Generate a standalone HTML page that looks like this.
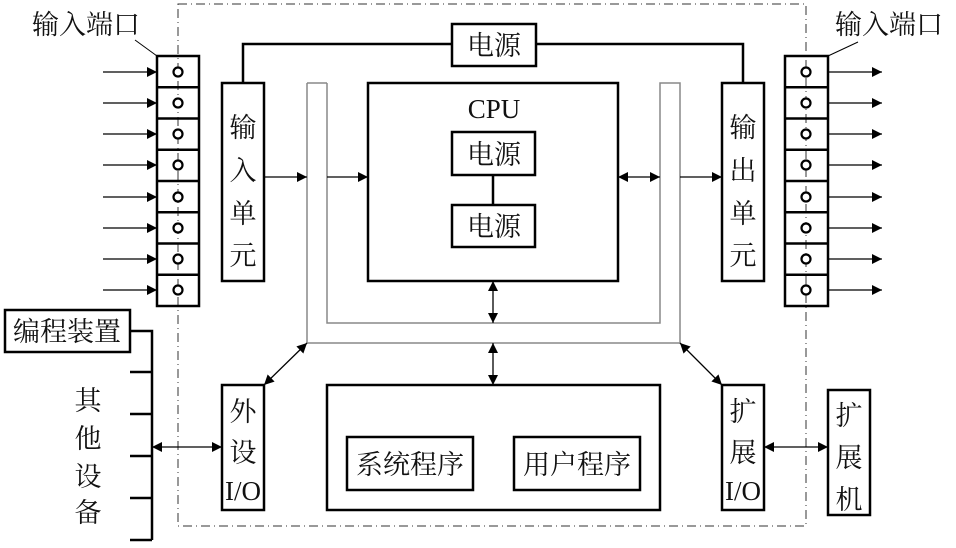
<!DOCTYPE html>
<html><head><meta charset="utf-8"><style>
html,body{margin:0;padding:0;background:#fff;}
svg{display:block;}
text{font-family:"Liberation Serif","Noto Serif CJK SC","Noto Sans CJK SC",serif;fill:#111;}
</style></head><body>
<svg width="956" height="548" viewBox="0 0 956 548" xmlns="http://www.w3.org/2000/svg">
<defs>
<marker id="a" viewBox="0 0 10 10" refX="10" refY="5" markerWidth="10" markerHeight="10" markerUnits="userSpaceOnUse" orient="auto-start-reverse"><path d="M0,0L10,5L0,10z" fill="#000"/></marker>
</defs>
<rect x="178" y="4" width="628" height="522" fill="none" stroke="#333" stroke-width="1" stroke-dasharray="9,4,1,4"/>
<path d="M307,83 L327,83 M307,83 L307,343 L680,343 L680,83 L660,83 L660,323 L327,323 L327,83" fill="none" stroke="#888" stroke-width="1.5"/>
<g fill="none" stroke="#000" stroke-width="2.5">
<rect x="157" y="56" width="42" height="250"/>
<rect x="785" y="56" width="43" height="250"/>
<path d="M157,87.25H199M157,118.5H199M157,149.75H199M157,181H199M157,212.25H199M157,243.5H199M157,274.75H199"/>
<path d="M785,87.25H828M785,118.5H828M785,149.75H828M785,181H828M785,212.25H828M785,243.5H828M785,274.75H828"/>
<rect x="222" y="83" width="42" height="198"/>
<rect x="722" y="83" width="42" height="198"/>
<rect x="452" y="24" width="84" height="42"/>
<path d="M243,83V44H452M536,44H743V83"/>
<rect x="368" y="83" width="250" height="198"/>
<rect x="452" y="132" width="83" height="43"/>
<rect x="452" y="205" width="83" height="42"/>
<path d="M493,175V205"/>
<rect x="327" y="385" width="333" height="125"/>
<rect x="347" y="437" width="126" height="53"/>
<rect x="514" y="437" width="126" height="53"/>
<rect x="222" y="385" width="42" height="125"/>
<rect x="722" y="385" width="42" height="125"/>
<rect x="828" y="390" width="42" height="125"/>
<rect x="5" y="310" width="125" height="42"/>
<path d="M130,331H152V540M130,372H152M130,414H152M130,456H152M130,498H152M130,540H152"/>
</g>
<g fill="#fff" stroke="#000" stroke-width="2.2">
<circle cx="178" cy="72" r="4.5"/><circle cx="178" cy="103" r="4.5"/><circle cx="178" cy="134" r="4.5"/><circle cx="178" cy="165" r="4.5"/><circle cx="178" cy="197" r="4.5"/><circle cx="178" cy="228" r="4.5"/><circle cx="178" cy="259" r="4.5"/><circle cx="178" cy="290" r="4.5"/>
<circle cx="806" cy="72" r="4.5"/><circle cx="806" cy="103" r="4.5"/><circle cx="806" cy="134" r="4.5"/><circle cx="806" cy="165" r="4.5"/><circle cx="806" cy="197" r="4.5"/><circle cx="806" cy="228" r="4.5"/><circle cx="806" cy="259" r="4.5"/><circle cx="806" cy="290" r="4.5"/>
</g>
<g stroke="#000" stroke-width="1.3" fill="none">
<line marker-end="url(#a)" x1="103" y1="72" x2="157" y2="72"/>
<line marker-end="url(#a)" x1="103" y1="103" x2="157" y2="103"/>
<line marker-end="url(#a)" x1="103" y1="134" x2="157" y2="134"/>
<line marker-end="url(#a)" x1="103" y1="165" x2="157" y2="165"/>
<line marker-end="url(#a)" x1="103" y1="197" x2="157" y2="197"/>
<line marker-end="url(#a)" x1="103" y1="228" x2="157" y2="228"/>
<line marker-end="url(#a)" x1="103" y1="259" x2="157" y2="259"/>
<line marker-end="url(#a)" x1="103" y1="290" x2="157" y2="290"/>
<line marker-end="url(#a)" x1="828" y1="72" x2="882" y2="72"/>
<line marker-end="url(#a)" x1="828" y1="103" x2="882" y2="103"/>
<line marker-end="url(#a)" x1="828" y1="134" x2="882" y2="134"/>
<line marker-end="url(#a)" x1="828" y1="165" x2="882" y2="165"/>
<line marker-end="url(#a)" x1="828" y1="197" x2="882" y2="197"/>
<line marker-end="url(#a)" x1="828" y1="228" x2="882" y2="228"/>
<line marker-end="url(#a)" x1="828" y1="259" x2="882" y2="259"/>
<line marker-end="url(#a)" x1="828" y1="290" x2="882" y2="290"/>
<line marker-end="url(#a)" x1="264" y1="177" x2="307" y2="177"/>
<line marker-end="url(#a)" x1="327" y1="177" x2="368" y2="177"/>
<line marker-end="url(#a)" x1="680" y1="177" x2="722" y2="177"/>
<line marker-start="url(#a)" marker-end="url(#a)" x1="618" y1="177" x2="660" y2="177"/>
<line marker-start="url(#a)" marker-end="url(#a)" x1="493" y1="281" x2="493" y2="323"/>
<line marker-start="url(#a)" marker-end="url(#a)" x1="493" y1="343" x2="493" y2="385"/>
<line marker-start="url(#a)" marker-end="url(#a)" x1="307" y1="343" x2="264" y2="385"/>
<line marker-start="url(#a)" marker-end="url(#a)" x1="680" y1="343" x2="722" y2="385"/>
<line marker-start="url(#a)" marker-end="url(#a)" x1="152" y1="447" x2="222" y2="447"/>
<line marker-start="url(#a)" marker-end="url(#a)" x1="764" y1="447" x2="828" y2="447"/>
<path stroke-width="1" d="M135,40L157,56M828,56L858,42"/>
</g>
<g font-size="27">
<text x="32" y="34">输入端口</text>
<text x="835" y="34">输入端口</text>
<text x="494" y="55" text-anchor="middle">电源</text>
<text x="494" y="118" text-anchor="middle">CPU</text>
<text x="494" y="164" text-anchor="middle">电源</text>
<text x="494" y="236" text-anchor="middle">电源</text>
<text x="410" y="474" text-anchor="middle">系统程序</text>
<text x="577" y="474" text-anchor="middle">用户程序</text>
<text x="67" y="341" text-anchor="middle">编程装置</text>
<g text-anchor="middle">
<text x="243" y="137">输</text><text x="243" y="180">入</text><text x="243" y="223">单</text><text x="243" y="265">元</text>
<text x="743" y="137">输</text><text x="743" y="180">出</text><text x="743" y="223">单</text><text x="743" y="265">元</text>
<text x="243" y="421">外</text><text x="243" y="462">设</text><text x="243" y="500">I/O</text>
<text x="743" y="421">扩</text><text x="743" y="462">展</text><text x="743" y="500">I/O</text>
<text x="849" y="425">扩</text><text x="849" y="467">展</text><text x="849" y="509">机</text>
<text x="88" y="410">其</text><text x="88" y="448">他</text><text x="88" y="486">设</text><text x="88" y="522">备</text>
</g>
</g>
</svg>
</body></html>
